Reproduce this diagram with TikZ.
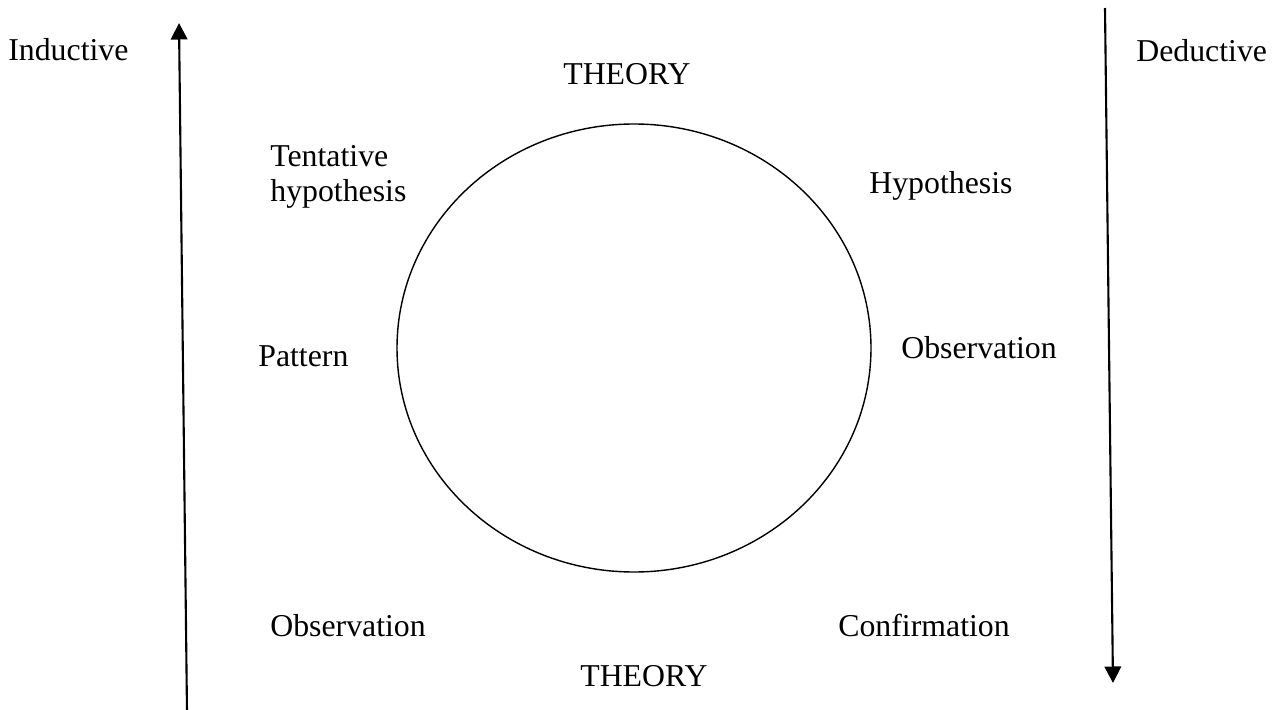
\documentclass[tikz,border=0pt]{standalone}
\usepackage{fontspec}
\setmainfont{Liberation Serif}
\usetikzlibrary{arrows.meta}
\begin{document}
\begin{tikzpicture}[x=0.02cm,y=-0.02cm,
  lbl/.style={anchor=base west,inner sep=0pt,font=\fontsize{18.1pt}{19.5pt}\selectfont,align=left},
  axis/.style={line width=1.2pt,-{Triangle[length=0.33cm,width=0.33cm]}}]
\useasboundingbox (0,0) rectangle (1272,710);
\draw[line width=0.8pt] (634,348) ellipse [x radius=237,y radius=224];
\coordinate (lb) at (187,712);
\coordinate (lt) at (179,23);
\coordinate (rt) at (1105,8);
\coordinate (rb) at (1113,683);
\draw[axis] (lb) -- (lt);
\draw[axis] (rt) -- (rb);
\node[lbl] (ind) at (8,60) {Inductive};
\node[lbl] (ded) at (1136,61) {Deductive};
\node[lbl] (th1) at (563,84) {THEORY};
\node[lbl] (tent) at (270,201) {Tentative\\hypothesis};
\node[lbl] (hyp) at (869,193) {Hypothesis};
\node[lbl] (pat) at (258,366) {Pattern};
\node[lbl] (obr) at (901,358) {Observation};
\node[lbl] (obl) at (270,636) {Observation};
\node[lbl] (conf) at (838,636) {Confirmation};
\node[lbl] (th2) at (580,686) {THEORY};
\end{tikzpicture}
\end{document}
